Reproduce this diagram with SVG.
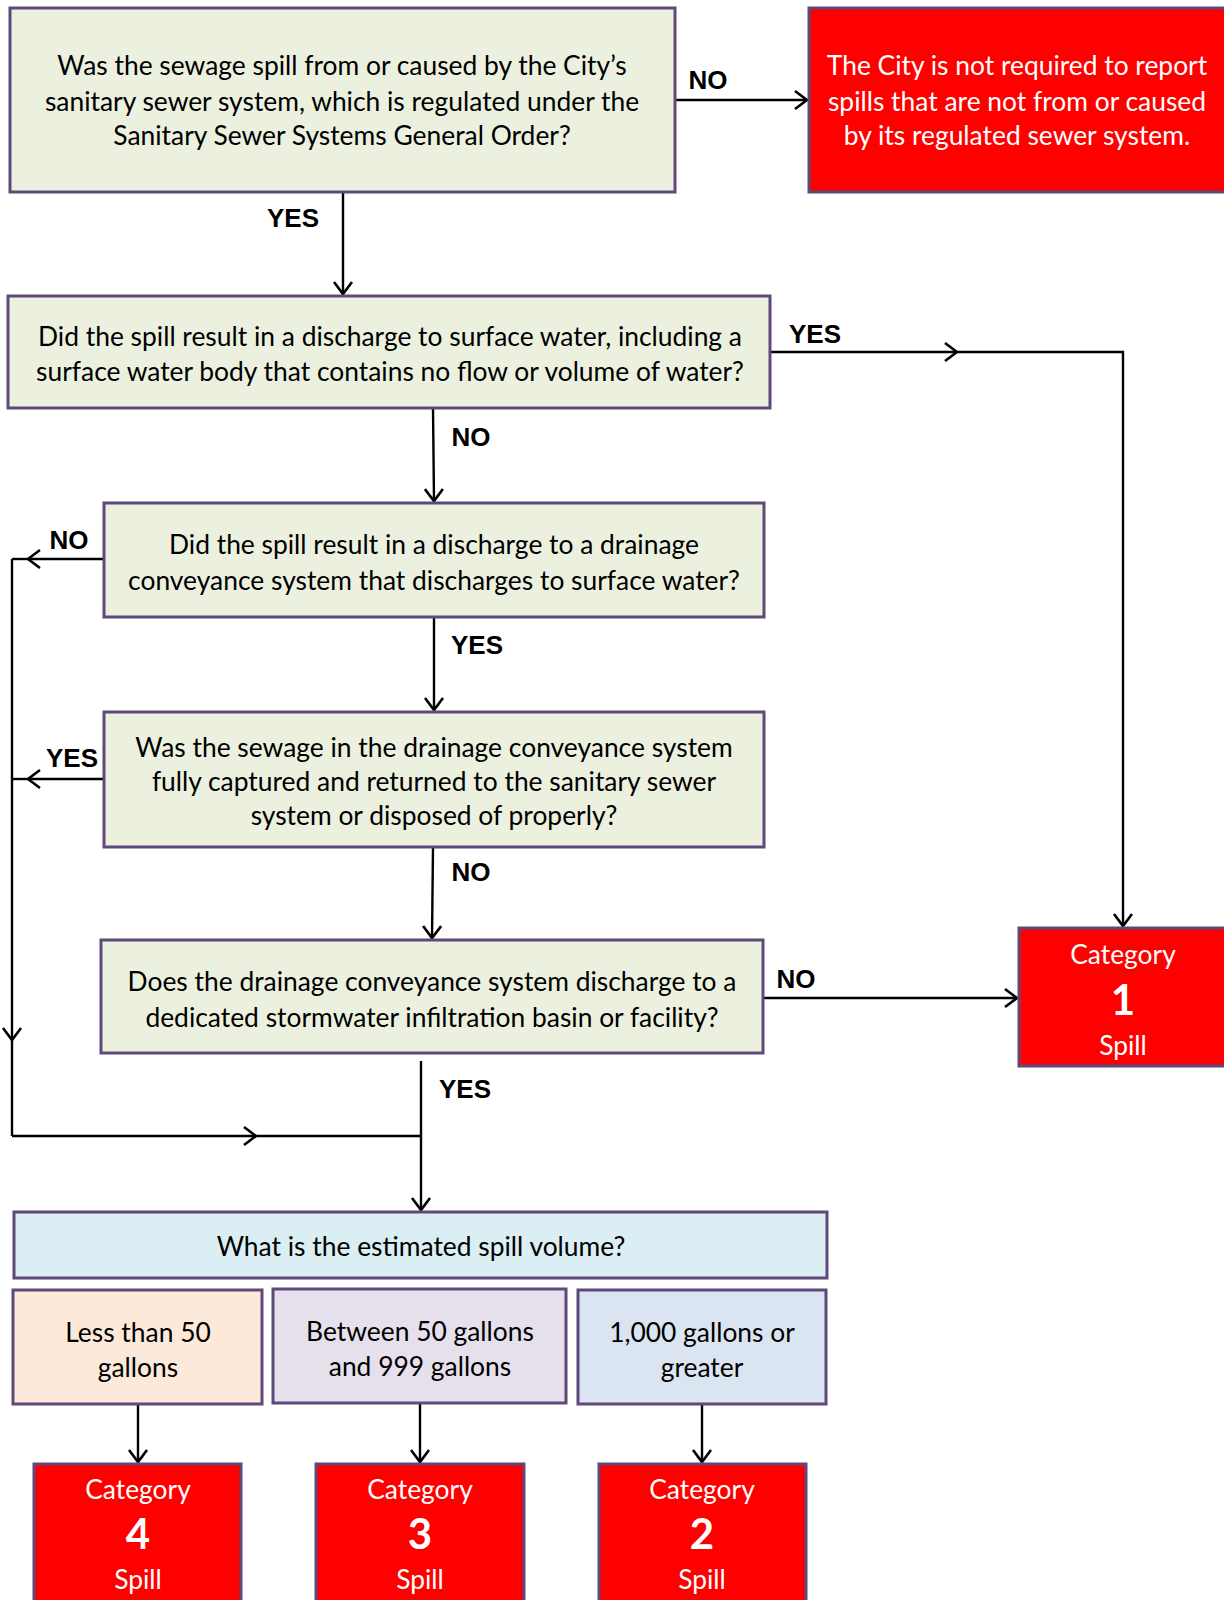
<svg xmlns="http://www.w3.org/2000/svg" width="1224" height="1600" viewBox="0 0 1224 1600">
<defs>
<marker id="arr" markerUnits="userSpaceOnUse" markerWidth="26" markerHeight="26" viewBox="-13 -13 26 26" refX="0" refY="0" orient="auto">
<path d="M-12,-9 L0,0 L-12,9" fill="none" stroke="#000" stroke-width="2.6"/>
</marker>
</defs>
<style>
.q{fill:#EBF1DE;stroke:#5F497A;stroke-width:3}
.red{fill:#FF0000;stroke:#5F497A;stroke-width:3}
.t{font-family:Lato,"Open Sans",sans-serif;font-size:26.4px;fill:#000;text-anchor:middle;dominant-baseline:central}
.w{font-family:Lato,"Open Sans",sans-serif;font-size:26.4px;fill:#fff;text-anchor:middle;dominant-baseline:central}
.num{font-family:Lato,"Open Sans",sans-serif;font-size:42px;font-weight:bold;fill:#fff;text-anchor:middle;dominant-baseline:central}
.lb{font-family:"Liberation Sans",Arial,sans-serif;font-size:26px;font-weight:bold;fill:#000;text-anchor:middle;dominant-baseline:central}
.c{fill:none;stroke:#000;stroke-width:2.4}
</style>
<rect width="1224" height="1600" fill="#fff"/>

<g id="connectors">
<path class="c" d="M675,100 L807,100" marker-end="url(#arr)"/>
<path class="c" d="M343,192 L343,294" marker-end="url(#arr)"/>
<path class="c" d="M770,352 L957,352" marker-end="url(#arr)"/>
<path class="c" d="M955,352 L1123,352 L1123,926" marker-end="url(#arr)"/>
<path class="c" d="M433,408 L434,501" marker-end="url(#arr)"/>
<path class="c" d="M104,559 L28,559" marker-end="url(#arr)"/>
<path class="c" d="M30,559 L12,559"/>
<path class="c" d="M12,559 L12,1040" marker-end="url(#arr)"/>
<path class="c" d="M12,1038 L12,1136"/>
<path class="c" d="M434,617 L434,710" marker-end="url(#arr)"/>
<path class="c" d="M104,779 L28,779" marker-end="url(#arr)"/>
<path class="c" d="M30,779 L12,779"/>
<path class="c" d="M433,847 L432,938" marker-end="url(#arr)"/>
<path class="c" d="M763,998 L1017,998" marker-end="url(#arr)"/>
<path class="c" d="M12,1136 L256,1136" marker-end="url(#arr)"/>
<path class="c" d="M254,1136 L421,1136"/>
<path class="c" d="M421,1061 L421,1210" marker-end="url(#arr)"/>
<path class="c" d="M138,1404 L138,1462" marker-end="url(#arr)"/>
<path class="c" d="M420,1403 L420,1462" marker-end="url(#arr)"/>
<path class="c" d="M702,1404 L702,1462" marker-end="url(#arr)"/>
<text class="lb" x="708" y="80">NO</text>
<text class="lb" x="293" y="218">YES</text>
<text class="lb" x="815" y="334">YES</text>
<text class="lb" x="471" y="437">NO</text>
<text class="lb" x="69" y="540">NO</text>
<text class="lb" x="477" y="645">YES</text>
<text class="lb" x="72" y="758">YES</text>
<text class="lb" x="471" y="872">NO</text>
<text class="lb" x="796" y="979">NO</text>
<text class="lb" x="465" y="1089">YES</text>
</g>

<g id="q1">
<rect class="q" x="10" y="8" width="665" height="184"/>
<text class="t" x="342" y="65">Was the sewage spill from or caused by the City’s</text>
<text class="t" x="342" y="101">sanitary sewer system, which is regulated under the</text>
<text class="t" x="342" y="135">Sanitary Sewer Systems General Order?</text>
</g>

<g id="notreq">
<rect class="red" x="809" y="8" width="425" height="184"/>
<text class="w" x="1017" y="65">The City is not required to report</text>
<text class="w" x="1017" y="101">spills that are not from or caused</text>
<text class="w" x="1017" y="135">by its regulated sewer system.</text>
</g>

<g id="q2">
<rect class="q" x="8" y="296" width="762" height="112"/>
<text class="t" x="390" y="336">Did the spill result in a discharge to surface water, including a</text>
<text class="t" x="390" y="371">surface water body that contains no flow or volume of water?</text>
</g>

<g id="q3">
<rect class="q" x="104" y="503" width="660" height="114"/>
<text class="t" x="434" y="544">Did the spill result in a discharge to a drainage</text>
<text class="t" x="434" y="580">conveyance system that discharges to surface water?</text>
</g>

<g id="q4">
<rect class="q" x="104" y="712" width="660" height="135"/>
<text class="t" x="434" y="747">Was the sewage in the drainage conveyance system</text>
<text class="t" x="434" y="781">fully captured and returned to the sanitary sewer</text>
<text class="t" x="434" y="815">system or disposed of properly?</text>
</g>

<g id="q5">
<rect class="q" x="101" y="940" width="662" height="113"/>
<text class="t" x="432" y="981">Does the drainage conveyance system discharge to a</text>
<text class="t" x="432" y="1017">dedicated stormwater infiltration basin or facility?</text>
</g>

<g id="cat1">
<rect class="red" x="1019" y="928" width="215" height="138"/>
<text class="w" x="1123" y="954">Category</text>
<text class="num" x="1123" y="999">1</text>
<text class="w" x="1123" y="1045">Spill</text>
</g>

<g id="volume">
<rect x="14" y="1212" width="813" height="66" fill="#DAEEF3" stroke="#5F497A" stroke-width="3"/>
<text class="t" x="421" y="1246">What is the estimated spill volume?</text>
</g>

<g id="v1">
<rect x="13" y="1290" width="249" height="114" fill="#FDE9D9" stroke="#5F497A" stroke-width="3"/>
<text class="t" x="138" y="1332">Less than 50</text>
<text class="t" x="138" y="1367">gallons</text>
</g>

<g id="v2">
<rect x="273" y="1289" width="293" height="114" fill="#E5E0EC" stroke="#5F497A" stroke-width="3"/>
<text class="t" x="420" y="1331">Between 50 gallons</text>
<text class="t" x="420" y="1366">and 999 gallons</text>
</g>

<g id="v3">
<rect x="578" y="1290" width="248" height="114" fill="#DBE5F1" stroke="#5F497A" stroke-width="3"/>
<text class="t" x="702" y="1332">1,000 gallons or</text>
<text class="t" x="702" y="1367">greater</text>
</g>

<g id="cat4">
<rect class="red" x="34" y="1464" width="207" height="150"/>
<text class="w" x="138" y="1489">Category</text>
<text class="num" x="138" y="1533">4</text>
<text class="w" x="138" y="1579">Spill</text>
</g>

<g id="cat3">
<rect class="red" x="316" y="1464" width="208" height="150"/>
<text class="w" x="420" y="1489">Category</text>
<text class="num" x="420" y="1533">3</text>
<text class="w" x="420" y="1579">Spill</text>
</g>

<g id="cat2">
<rect class="red" x="599" y="1464" width="207" height="150"/>
<text class="w" x="702" y="1489">Category</text>
<text class="num" x="702" y="1533">2</text>
<text class="w" x="702" y="1579">Spill</text>
</g>
</svg>
